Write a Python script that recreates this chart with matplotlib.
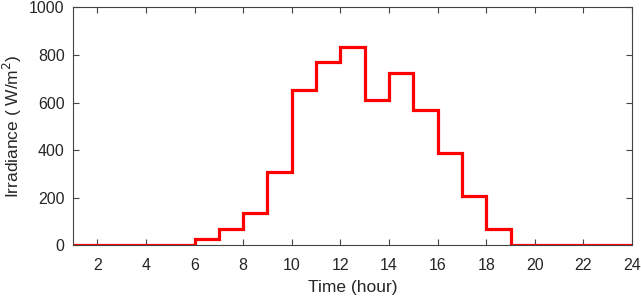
import matplotlib
matplotlib.use("Agg")
import matplotlib.pyplot as plt

hours = list(range(1, 25))
irradiance = [0, 0, 0, 0, 0, 28, 68, 137, 310, 652, 772, 833, 612, 726, 568, 387, 209, 70, 0, 0, 0, 0, 0, 0]
xticks = list(range(2, 25, 2))
yticks = list(range(0, 1001, 200))

plt.rcParams['font.family'] = ['Liberation Sans', 'DejaVu Sans']
fig = plt.figure(figsize=(6.41, 2.98), dpi=100)
ax = fig.add_axes([0.114, 0.177, 0.872, 0.798])
ax.step(hours, irradiance, where='post', color='#ff0000', linewidth=2.3, solid_joinstyle='miter')
ax.set_xlim(1, 24)
ax.set_ylim(0, 1000)
ax.set_xticks(xticks)
ax.set_yticks(yticks)
col = '#262626'
for s in ax.spines.values():
    s.set_color('#444444')
    s.set_linewidth(0.8)
ax.tick_params(direction='in', top=True, right=True, length=4, width=0.8,
               colors='#444444', labelcolor=col, labelsize=11.5)
ax.tick_params(axis='x', pad=9)
ax.tick_params(axis='y', pad=6)
ax.set_xlabel('Time (hour)', fontsize=12.5, color=col, labelpad=5)
ax.set_ylabel('Irradiance ( W/m$^2$)', fontsize=12.5, color=col, labelpad=4)
fig.savefig('out.png', dpi=100)
